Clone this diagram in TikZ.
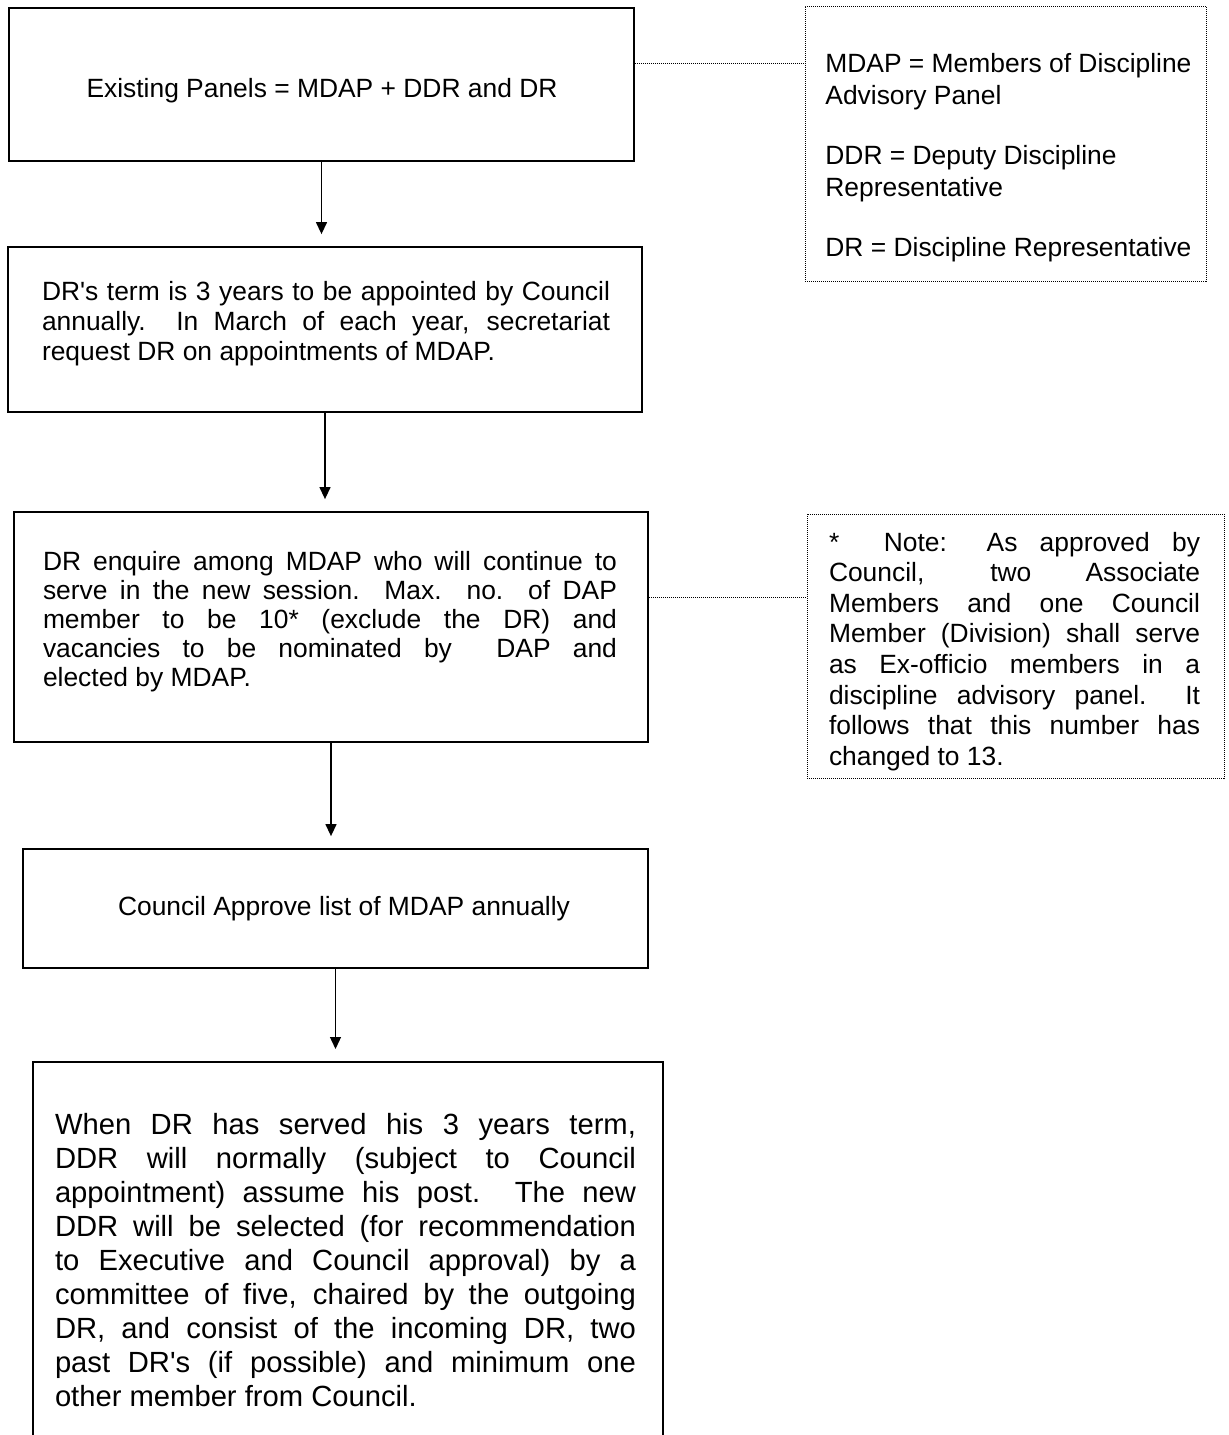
\documentclass[tikz,border=0pt]{standalone}
\usepackage{fontspec}
\setmainfont{Liberation Sans}
\usetikzlibrary{arrows.meta, positioning}

\tikzset{
  stage/.style={draw, line width=0.9pt, inner sep=0pt},
  glossbox/.style={draw, line width=0.5pt, dash pattern=on 0.5pt off 0.5pt, inner sep=0pt},
  para/.style={inner sep=0pt, align=justify, anchor=north},
  flow/.style={-{Triangle[length=6pt,width=5.5pt]}, line width=0.65pt, shorten >=6pt},
  hairdots/.style={line width=0.5pt, dash pattern=on 0.5pt off 0.5pt},
}

\begin{document}
\begin{tikzpicture}[x=0.5pt, y=-0.5pt]
    \clip (0,0) rectangle (1229,1435);

    % flow boxes
    \node[stage, minimum width=312.5pt, minimum height=76.5pt] (panels) at (321.5,84.5) {};
    \node[stage, minimum width=317pt, minimum height=82.5pt] (term) at (325,329.5) {};
    \node[stage, minimum width=317pt, minimum height=115pt] (enquire) at (331,627) {};
    \node[stage, minimum width=312.5pt, minimum height=59.5pt] (approve) at (335.5,908.5) {};
    \node[stage, minimum width=315pt, minimum height=250pt, anchor=north] (handover) at (348,1061) {};

    % glossary boxes
    \node[glossbox, minimum width=200.5pt, minimum height=137.5pt] (legend) at (1005.5,143.5) {};
    \node[glossbox, minimum width=208.5pt, minimum height=132pt] (note) at (1015.5,646) {};

    % texts
    \node[para, font=\fontsize{13.2}{15}\selectfont] (panels-txt) at (322,77.5)
        {Existing Panels = MDAP + DDR and DR};
    \node[para, text width=284pt, font=\fontsize{13.2}{15}\selectfont] (term-txt) at (326,280.5)
        {DR\textquotesingle s term is 3 years to be appointed by Council\linebreak
         annually.\ \ In March of each year, secretariat\linebreak
         request DR on appointments of MDAP.};
    \node[para, text width=287pt, font=\fontsize{13.2}{14.6}\selectfont] (enquire-txt) at (330,550.5)
        {DR enquire among MDAP who will continue to\linebreak
         serve in the new session.\ \ Max. no. of DAP\linebreak
         member to be 10* (exclude the DR) and\linebreak
         vacancies to be nominated by\ \ DAP and\linebreak
         elected by MDAP.};
    \node[para, font=\fontsize{13.2}{15}\selectfont] (approve-txt) at (344,895.5)
        {Council Approve list of MDAP annually};
    \node[para, text width=290.5pt, font=\fontsize{14.6}{17}\selectfont] (handover-txt) at (345.5,1112.5)
        {When DR has served his 3 years term,\linebreak
         DDR will normally (subject to Council\linebreak
         appointment) assume his post.\ \ The new\linebreak
         DDR will be selected (for recommendation\linebreak
         to Executive and Council approval) by a\linebreak
         committee of five, chaired by the outgoing\linebreak
         DR, and consist of the incoming DR, two\linebreak
         past DR\textquotesingle s (if possible) and minimum one\linebreak
         other member from Council.};
    \node[para, anchor=north west, align=left, font=\fontsize{13.2}{16}\selectfont] (legend-txt) at (825,52.5)
        {MDAP = Members of Discipline\\
         Advisory Panel\\[14pt]
         DDR = Deputy Discipline\\
         Representative\\[14pt]
         DR = Discipline Representative};
    \node[para, text width=185.5pt, font=\fontsize{13.2}{15.3}\selectfont] (note-txt) at (1014.5,531.5)
        {*\ \ Note: As approved by\linebreak
         Council, two Associate\linebreak
         Members and one Council\linebreak
         Member (Division) shall serve\linebreak
         as Ex-officio members in a\linebreak
         discipline advisory panel.\ \ It\linebreak
         follows that this number has\linebreak
         changed to 13.};

    % arrows
    \draw[flow] (panels.south) -- (panels.south |- term.north);
    \draw[flow] (term.south) -- (term.south |- enquire.north);
    \draw[flow] (enquire.south) -- (enquire.south |- approve.north);
    \draw[flow] (approve.south) -- (approve.south |- handover.north);

    % dotted links to the glossary
    \coordinate (legend-link) at (0,63);
    \coordinate (note-link) at (0,597);
    \draw[hairdots] (panels.east |- legend-link) -- (legend.west |- legend-link);
    \draw[hairdots] (enquire.east |- note-link) -- (note.west |- note-link);
\end{tikzpicture}
\end{document}
